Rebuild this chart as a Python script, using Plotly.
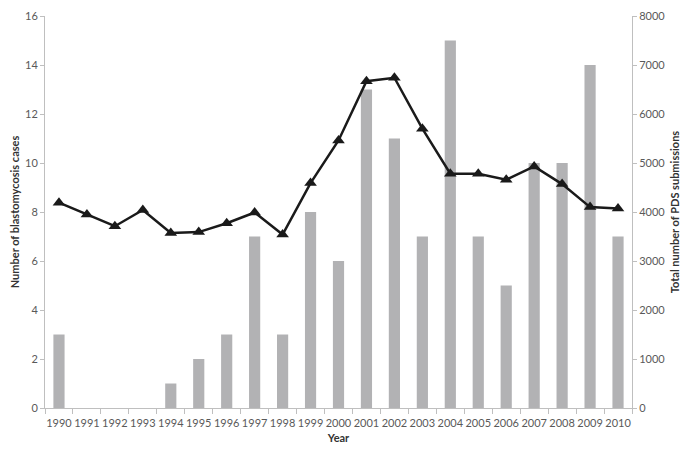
import plotly.graph_objects as go

# === Data ===
years = [str(y) for y in range(1990, 2011)]
cases = [3, 0, 0, 0, 1, 2, 3, 7, 3, 8, 6, 13, 11, 7, 15, 7, 5, 10, 10, 14, 7]
submissions = [4190, 3950, 3710, 4040, 3570, 3590, 3770, 3990, 3540, 4590,
               5460, 6670, 6740, 5700, 4780, 4780, 4660, 4930, 4570, 4100, 4070]

font_family = "Lato, Open Sans, sans-serif"
tick_color = "#595959"
axis_color = "#bfbfbf"

fig = go.Figure()

# bars: blastomycosis cases (left axis)
fig.add_trace(go.Bar(
    x=years, y=cases, name="Blastomycosis cases",
    marker=dict(color="#b2b2b4", line=dict(width=0)),
    width=0.4, yaxis="y"
))

# line: PDS submissions (right axis)
fig.add_trace(go.Scatter(
    x=years, y=submissions, name="PDS submissions",
    mode="lines+markers", yaxis="y2",
    line=dict(color="#1a1a1a", width=2.5),
    marker=dict(symbol="triangle-up", size=11, color="#1a1a1a"),
))

# page body has an 8px margin, so the figure is a bit smaller than the window
fig.update_layout(
    width=680, height=447,
    margin=dict(l=37, r=56, t=8, b=47),
    paper_bgcolor="white", plot_bgcolor="white",
    showlegend=False,
    font=dict(family=font_family, size=11, color=tick_color),
    xaxis=dict(
        type="category", tickson="boundaries", range=[-0.5, 20.5],
        tickangle=0, automargin=False, ticklabelstandoff=5,
        showline=True, linecolor=axis_color, linewidth=1,
        ticks="outside", ticklen=5, tickcolor=axis_color,
        showgrid=False, tickfont=dict(size=11, color=tick_color),
        title=dict(text="<b>Year</b>", font=dict(size=11, color="#333333"), standoff=6),
    ),
    yaxis=dict(
        range=[0, 16], dtick=2, automargin=False, ticklabeloverflow="allow",
        showline=True, linecolor=axis_color, linewidth=1,
        ticks="outside", ticklen=4, tickcolor=axis_color,
        showgrid=False, zeroline=False,
        tickfont=dict(size=11, color=tick_color),
        title=dict(text="<b>Number of blastomycosis cases</b>",
                   font=dict(size=11, color="#333333"), standoff=6),
    ),
    yaxis2=dict(
        range=[0, 8000], dtick=1000, overlaying="y", side="right",
        automargin=False, ticklabeloverflow="allow",
        showline=True, linecolor=axis_color, linewidth=1,
        ticks="outside", ticklen=4, tickcolor=axis_color,
        showgrid=False, zeroline=False,
        tickfont=dict(size=11, color=tick_color),
        title=dict(text="<b>Total number of PDS submissions</b>",
                   font=dict(size=11, color="#333333"), standoff=6),
    ),
)

fig.write_html("out.html")
